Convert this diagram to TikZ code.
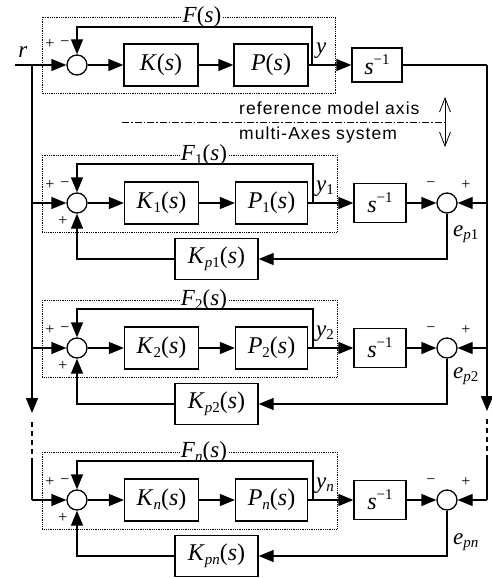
\documentclass[tikz,border=0pt]{standalone}
\usepackage{fontspec}
\setmainfont{Liberation Serif}
\newfontfamily\sansf{Liberation Sans}[LetterSpace=6]
\usetikzlibrary{arrows.meta}
\newcommand{\vi}[1]{\textit{#1}}
\newcommand{\lsub}[1]{\raisebox{-0.35ex}{\fontsize{15}{15}\selectfont #1}}
\newcommand{\lsup}[1]{\raisebox{0.9ex}{\fontsize{15}{15}\selectfont #1}}
\tikzset{
  blk/.style={draw, line width=1.3pt, minimum height=42pt, inner sep=0pt, font=\fontsize{24}{28}\selectfont},
  sumc/.style={draw, circle, line width=1.3pt, minimum size=20pt, inner sep=0pt},
  sig/.style={line width=1.3pt, -{Triangle[length=15pt,width=12pt]}},
  wire/.style={line width=1.3pt},
  dotbox/.style={draw, densely dotted, line width=0.8pt},
  lbl/.style={font=\fontsize{23}{26}\selectfont, inner sep=0pt},
  sgn/.style={font=\fontsize{16}{18}\selectfont, inner sep=0pt},
  septext/.style={font=\sansf\fontsize{17.5}{20}\selectfont, inner sep=0pt, anchor=base west},
}
% #1 prefix, #2 main y, #3 F, #4 K, #5 P, #6 y label, #7 e label, #8 Kp label, #9 e offset
\newcommand{\axisrow}[9]{%
  \draw[dotbox] (42,#2-48) rectangle (337,#2+29);
  \node[fill=white, lbl, inner xsep=1pt] (#1F) at (204,#2-48) {#3};
  \node[sumc] (#1s) at (77,#2) {};
  \node[blk, minimum width=74pt] (#1K) at (161.5,#2) {#4};
  \node[blk, minimum width=72pt] (#1P) at (271.5,#2) {#5};
  \node[blk, minimum width=52pt, minimum height=39pt] (#1I) at (380,#2) {\vi{s}\lsup{−1}};
  \node[sumc] (#1e) at (447,#2) {};
  \node[blk, minimum width=83pt, minimum height=41pt] (#1Kp) at (216.5,#2+56) {#8};
  \coordinate (#1br) at (313,#2);
  \coordinate (#1ft) at (77,#2-39);
  \coordinate (#1kc) at (447,#2+56);
  \coordinate (#1kl) at (77,#2+56);
  \coordinate (#1rv) at (487,#2);
  \coordinate (#1lv) at (32,#2);
  \draw[sig] (#1s) -- (#1K);
  \draw[sig] (#1K) -- (#1P);
  \draw[sig] (#1P.east) -- (#1I.west);
  \draw[sig] (#1br) -- (#1br |- #1ft) -- (#1ft) -- (#1s.north);
  \draw[sig] (#1I) -- (#1e);
  \draw[sig] (#1e.south) -- (#1kc) -- (#1Kp.east);
  \draw[sig] (#1Kp.west) -- (#1kl) -- (#1s.south);
  \draw[sig] (#1rv) -- (#1e.east);
  \draw[sig] (#1lv) -- (#1s.west);
  \node[lbl, anchor=base west] (#1yl) at (316,#2-12) {#6};
  \node[lbl, anchor=base west] (#1el) at (453,#2+#9) {#7};
  \node[sgn] (#1pa) at (50,#2-18) {+};
  \node[sgn] (#1ma) at (65,#2-18) {−};
  \node[sgn] (#1pb) at (63,#2+18) {+};
  \node[sgn] (#1mc) at (431,#2-18) {−};
  \node[sgn] (#1pc) at (466,#2-18) {+};
}
\begin{document}
\begin{tikzpicture}[x=1pt,y=-1pt]
\useasboundingbox (0,0) rectangle (492,578);
% ---------- reference model ----------
\draw[dotbox] (42,17) rectangle (335,93);
\node[fill=white, lbl, inner xsep=1pt] (F0) at (202,17) {\vi{F}(\vi{s})};
\node[sumc] (s0) at (77,65) {};
\node[blk, minimum width=74pt] (K0) at (161,65) {\vi{K}(\vi{s})};
\node[blk, minimum width=74pt] (P0) at (271,65) {\vi{P}(\vi{s})};
\node[blk, minimum width=50pt, minimum height=34pt] (I0) at (377,65) {\vi{s}\lsup{−1}};
\coordinate (rin) at (15,65);
\coordinate (j0) at (32,65);
\coordinate (br0) at (312,65);
\coordinate (ft0) at (77,27);
\coordinate (tr) at (487,65);
\node[lbl] (rl) at (23,52) {\vi{r}};
\node[lbl, anchor=base west] (yl0) at (316,53) {\vi{y}};
\node[sgn] (pa0) at (50,44) {+};
\node[sgn] (ma0) at (65,44) {−};
\draw[wire] (rin) -- (j0);
\draw[sig] (j0) -- (s0);
\draw[sig] (s0) -- (K0);
\draw[sig] (K0) -- (P0);
\draw[sig] (P0.east) -- (I0.west);
\draw[sig] (br0) -- (br0 |- ft0) -- (ft0) -- (s0.north);
\draw[wire] (I0.east) -- (tr);
% ---------- separator ----------
\node[septext] (t1) at (239,114) {reference model axis};
\node[septext] (t2) at (239,139) {multi-Axes system};
\coordinate (dl1) at (122,122);
\coordinate (dl2) at (445,122);
\draw[line width=0.8pt, dash pattern=on 7pt off 2pt on 1.5pt off 2pt] (dl1) -- (dl2);
\coordinate (da1) at (445,97);
\coordinate (da2) at (445,147);
\draw[line width=0.8pt, {Straight Barb[length=14pt,width=11pt]}-{Straight Barb[length=14pt,width=11pt]}] (da1) -- (da2);
% ---------- axes ----------
\axisrow{a}{203}{\vi{F}\lsub{1}(\vi{s})}{\vi{K}\lsub{1}(\vi{s})}{\vi{P}\lsub{1}(\vi{s})}{\vi{y}\lsub{1}}{\vi{e}\lsub{\vi{p}1}}{\vi{K}\lsub{\vi{p}1}(\vi{s})}{33}
\axisrow{b}{348}{\vi{F}\lsub{2}(\vi{s})}{\vi{K}\lsub{2}(\vi{s})}{\vi{P}\lsub{2}(\vi{s})}{\vi{y}\lsub{2}}{\vi{e}\lsub{\vi{p}2}}{\vi{K}\lsub{\vi{p}2}(\vi{s})}{30}
\axisrow{n}{500}{\vi{F}\lsub{\vi{n}}(\vi{s})}{\vi{K}\lsub{\vi{n}}(\vi{s})}{\vi{P}\lsub{\vi{n}}(\vi{s})}{\vi{y}\lsub{\vi{n}}}{\vi{e}\lsub{\vi{pn}}}{\vi{K}\lsub{\vi{pn}}(\vi{s})}{44}
% ---------- vertical buses ----------
\coordinate (larr) at (32,413);
\coordinate (ld1) at (32,422);
\coordinate (ld2) at (32,458);
\coordinate (rarr) at (487,411);
\coordinate (rd1) at (487,419);
\coordinate (rd2) at (487,458);
\draw[wire] (j0) -- (blv);
\draw[sig] (blv) -- (larr);
\draw[wire, dash pattern=on 5pt off 4pt] (ld1) -- (ld2);
\draw[wire] (ld2) -- (nlv);
\draw[wire] (tr) -- (brv);
\draw[sig] (brv) -- (rarr);
\draw[wire, dash pattern=on 5pt off 4pt] (rd1) -- (rd2);
\draw[wire] (rd2) -- (nrv);
\end{tikzpicture}
\end{document}
